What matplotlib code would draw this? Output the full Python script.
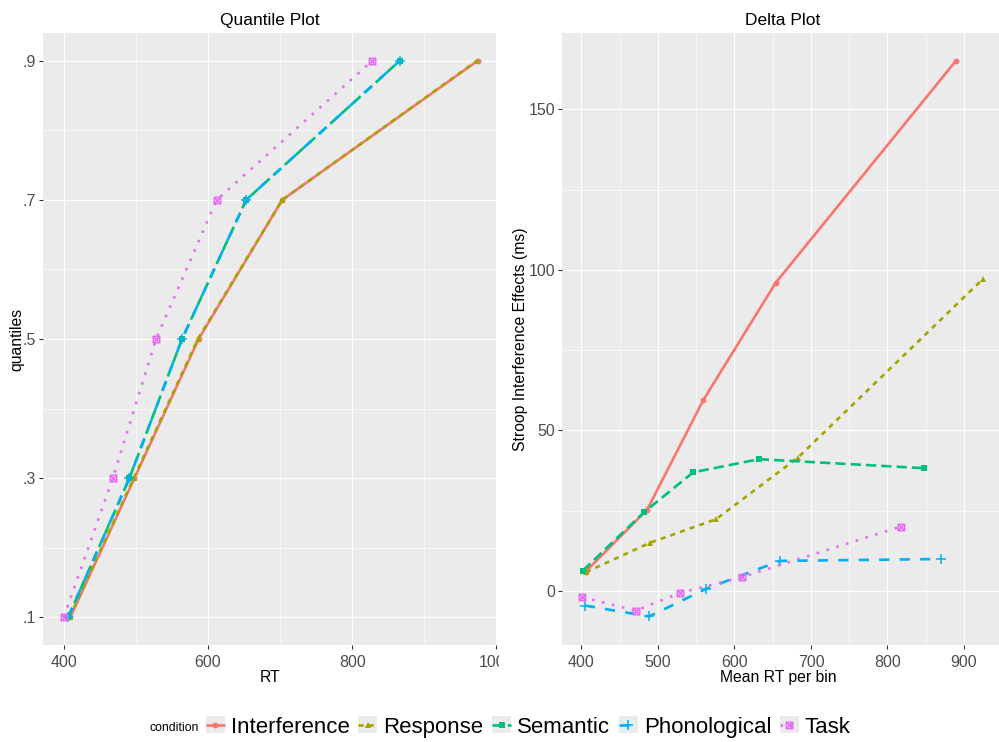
import matplotlib
matplotlib.use("Agg")
import matplotlib.pyplot as plt
from matplotlib.path import Path
from matplotlib.patches import Patch, Rectangle
from matplotlib.legend_handler import HandlerTuple
from matplotlib.ticker import FixedLocator

plt.rcParams['font.family'] = ['Liberation Sans', 'DejaVu Sans']

# ---------------- data ----------------
conditions = ["Interference", "Response", "Semantic", "Phonological", "Task"]

quantiles = [0.1, 0.3, 0.5, 0.7, 0.9]
quantile_labels = [".1", ".3", ".5", ".7", ".9"]
q_interference = [409, 498, 587, 703, 974]
q_response = [408, 497, 586, 703, 973]
q_semantic = [406, 491, 564, 653, 866]
q_phonological = [406, 491, 564, 653, 866]
q_task = [400, 468, 528, 612, 828]

d_x_interference = [405.6, 486, 559, 654, 889]
d_y_interference = [6.0, 25.3, 59.3, 96.0, 165.0]
d_x_response = [406, 490, 576, 683, 925]
d_y_response = [5.8, 15.0, 22.3, 41.5, 97.2]
d_x_semantic = [402, 482, 546, 632, 847.5]
d_y_semantic = [6.3, 24.5, 36.9, 41.0, 38.2]
d_x_phonological = [404.5, 488.5, 563, 659, 870.6]
d_y_phonological = [-4.6, -8.0, 0.6, 9.3, 9.9]
d_x_task = [401, 471, 528.5, 610.4, 817.4]
d_y_task = [-2.0, -6.2, -0.7, 4.3, 20.0]

# ---------------- styles ----------------
colors = ["#F8766D", "#A3A500", "#00BF7D", "#00B0F6", "#E76BF3"]
LW = 1.9
u = 1.15 * 1.6 / LW
dash_styles = [None, (2 * u, 2 * u), (4 * u, 2 * u), (4 * u, 4 * u), (1 * u, 3 * u)]
boxx = Path([(-1, -1), (1, -1), (1, 1), (-1, 1), (-1, -1), (-1, -1), (1, 1), (-1, 1), (1, -1)],
            [Path.MOVETO, Path.LINETO, Path.LINETO, Path.LINETO, Path.CLOSEPOLY,
             Path.MOVETO, Path.LINETO, Path.MOVETO, Path.LINETO])
markers = ['o', '^', 's', '+', boxx]
msizes = [4.2, 4.6, 4.0, 6.5, 4.6]
BG = "#EBEBEB"

W, H = 999, 742
fig = plt.figure(figsize=(W / 100, H / 100), dpi=100)


def px_axes(x0, y0, x1, y1):
    return fig.add_axes([x0 / W, (H - y1) / H, (x1 - x0) / W, (y1 - y0) / H])


def draw_series(ax, xs, ys, i):
    kw = dict(color=colors[i], lw=LW, marker=markers[i], ms=msizes[i],
              dash_capstyle='butt', solid_capstyle='butt')
    if markers[i] == '+' or markers[i] is boxx:
        kw.update(markerfacecolor='none', markeredgecolor=colors[i], mew=1.1)
    else:
        kw.update(markeredgewidth=0)
    ln, = ax.plot(xs, ys, **kw)
    if dash_styles[i] is not None:
        ln.set_dashes(dash_styles[i])
    return ln


def style_axes(ax):
    ax.set_facecolor(BG)
    for s in ax.spines.values():
        s.set_visible(False)
    ax.grid(True, which='major', color='white', lw=0.85)
    ax.grid(True, which='minor', color='white', lw=0.45)
    ax.set_axisbelow(True)
    ax.tick_params(which='major', length=2.75, width=0.8, color='#333333',
                   labelcolor='#4D4D4D', labelsize=11.5)
    ax.tick_params(axis='x', which='major', pad=4.5)
    ax.tick_params(axis='y', which='major', pad=2.3)
    ax.tick_params(which='minor', length=0)


# ---------------- left: quantile plot ----------------
ax1 = px_axes(43.3, 33, 497, 645)
style_axes(ax1)
q_series = [q_interference, q_response, q_semantic, q_phonological, q_task]
handles = []
for i, xs in enumerate(q_series):
    handles.append(draw_series(ax1, xs, quantiles, i))
ax1.set_xlim(371.5, 1001)
ax1.set_ylim(0.06, 0.94)
ax1.xaxis.set_major_locator(FixedLocator([400, 600, 800, 1000]))
ax1.xaxis.set_minor_locator(FixedLocator([500, 700, 900]))
ax1.yaxis.set_major_locator(FixedLocator(quantiles))
ax1.set_yticklabels(quantile_labels)
ax1.yaxis.set_minor_locator(FixedLocator([0.2, 0.4, 0.6, 0.8]))
ax1.set_title("Quantile Plot", fontsize=12.5, pad=6)
ax1.set_xlabel("RT", fontsize=11.3, va='top')
ax1.xaxis.set_label_coords(0.5, -0.0408)
ax1.set_ylabel("quantiles", fontsize=11.3)
ax1.yaxis.set_label_coords(-0.0425, 0.5)

# ---------------- right: delta plot ----------------
ax2 = px_axes(562, 33, 1003, 645)
style_axes(ax2)
d_series = [(d_x_interference, d_y_interference), (d_x_response, d_y_response),
            (d_x_semantic, d_y_semantic), (d_x_phonological, d_y_phonological),
            (d_x_task, d_y_task)]
for i, (xs, ys) in enumerate(d_series):
    draw_series(ax2, xs, ys, i)
ax2.set_xlim(374.6, 951)
ax2.set_ylim(-16.9, 173.8)
ax2.xaxis.set_major_locator(FixedLocator([400, 500, 600, 700, 800, 900]))
ax2.xaxis.set_minor_locator(FixedLocator([450, 550, 650, 750, 850, 950]))
ax2.yaxis.set_major_locator(FixedLocator([0, 50, 100, 150]))
ax2.yaxis.set_minor_locator(FixedLocator([25, 75, 125]))
ax2.set_title("Delta Plot", fontsize=12.5, pad=6)
ax2.set_xlabel("Mean RT per bin", fontsize=11.3, va='top')
ax2.xaxis.set_label_coords((778 - 562) / 441, -0.0408)
ax2.set_ylabel("Stroop Interference Effects (ms)", fontsize=11.3)
ax2.yaxis.set_label_coords((528 - 562) / 441, 0.5)

# clip the overflowing "1000" label as in the reference
fig.patches.append(Rectangle((499 / W, (H - 690) / H), 58 / W, 45 / H,
                             transform=fig.transFigure, facecolor='white',
                             edgecolor='none', zorder=10))

# ---------------- legend ----------------
leg_handles = [(Patch(facecolor=BG, edgecolor='none'), h) for h in handles]
fig.text(150 / W, (H - 728) / H, "condition", fontsize=8.8, va='center', ha='left')
fig.legend(leg_handles, conditions, loc='center left',
           bbox_to_anchor=(206 / W, (H - 727) / H), ncol=5, frameon=False,
           fontsize=16, handlelength=0.85, handleheight=0.8,
           handletextpad=0.28, columnspacing=0.38, borderpad=0, borderaxespad=0,
           handler_map={tuple: HandlerTuple(ndivide=1, pad=0)})

fig.savefig("out.png", dpi=100)
